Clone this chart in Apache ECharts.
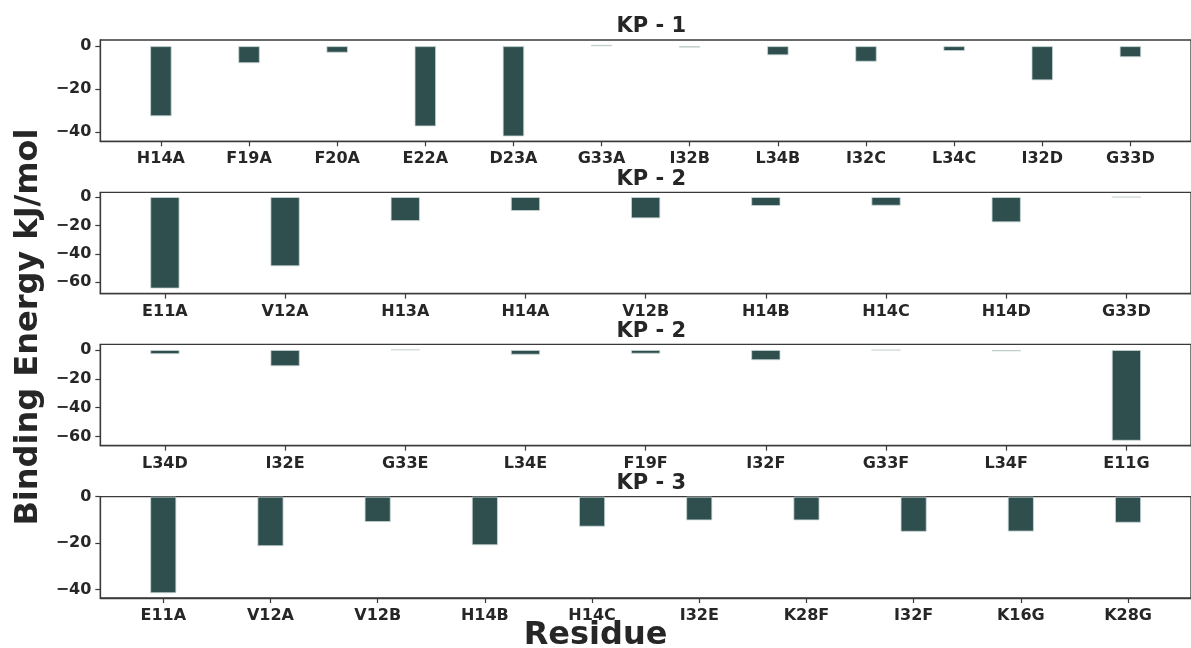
<!DOCTYPE html>
<html>
<head>
<meta charset="utf-8">
<script src="https://cdn.jsdelivr.net/npm/echarts@6/dist/echarts.min.js"></script>
<style>
html,body{margin:0;padding:0;background:#fff;}
#chart{width:1191px;height:648px;}
</style>
</head>
<body>
<div id="chart"></div>
<script>
// ---- data ----
const cats1 = ['H14A','F19A','F20A','E22A','D23A','G33A','I32B','L34B','I32C','L34C','I32D','G33D'];
const vals1 = [-32.7,-7.9,-3.0,-37.4,-42.1,0.6,-0.6,-4.2,-7.2,-2.2,-15.9,-5.1];
const cats2 = ['E11A','V12A','H13A','H14A','V12B','H14B','H14C','H14D','G33D'];
const vals2 = [-64.4,-48.7,-16.8,-9.7,-14.9,-6.2,-6.0,-17.7,0];
const cats3 = ['L34D','I32E','G33E','L34E','F19F','I32F','G33F','L34F','E11G'];
const vals3 = [-2.8,-11.2,0.4,-3.2,-2.5,-7.0,0,-0.9,-63.0];
const cats4 = ['E11A','V12A','V12B','H14B','H14C','I32E','K28F','I32F','K16G','K28G'];
const vals4 = [-41.6,-21.3,-10.9,-20.9,-12.9,-10.2,-10.2,-15.1,-15.0,-11.2];
const yTicks1 = [0,-20,-40];
const yTicks2 = [0,-20,-40,-60];
const yTicks3 = [0,-20,-40,-60];
const yTicks4 = [0,-20,-40];
const yRange1 = [-44.4, 2.9];
const yRange2 = [-68.0, 3.4];
const yRange3 = [-66.4, 4.0];
const yRange4 = [-43.7, 0];
const titles = ['KP - 1','KP - 2','KP - 2','KP - 3'];
const yLabel = 'Binding Energy kJ/mol';
const xLabel = 'Residue';

const panels = [
  {cats:cats1, vals:vals1, ticks:yTicks1, range:yRange1},
  {cats:cats2, vals:vals2, ticks:yTicks2, range:yRange2},
  {cats:cats3, vals:vals3, ticks:yTicks3, range:yRange3},
  {cats:cats4, vals:vals4, ticks:yTicks4, range:yRange4}
];

const FONT = 'DejaVu Sans';
const TXT = '#262626';
const LINE = '#3a3a3a';
const gridLeft = 100.3;
const gridWidth = 1102;
const gridTops = [40, 192.3, 344.3, 496.7];
const gridH = 101.3;
const relWidth = 0.24;

const grids = [], xAxes = [], yAxes = [], series = [], graphics = [];
panels.forEach((p, i) => {
  const n = p.cats.length;
  const m = 0.125 + 0.05 * (n - 1 + 0.25);
  const xmin = -m, xmax = n - 1 + m;
  const step = gridWidth / (xmax - xmin);
  const idx = p.cats.map((c, k) => k);
  grids.push({left: gridLeft, top: gridTops[i], width: gridWidth, height: gridH,
    show: true, borderColor: LINE, borderWidth: 1.3, backgroundColor: 'transparent'});
  xAxes.push({type: 'value', gridIndex: i, min: xmin, max: xmax, position: 'bottom',
    axisLine: {show: true, onZero: false, lineStyle: {color: LINE, width: 1.3}},
    axisTick: {show: true, length: 5, customValues: idx, lineStyle: {color: LINE, width: 1.2}},
    axisLabel: {show: true, customValues: idx, margin: 10, color: TXT,
      fontFamily: FONT, fontWeight: 'bold', fontSize: 16,
      formatter: v => p.cats[Math.round(v)] || ''},
    splitLine: {show: false}});
  yAxes.push({type: 'value', gridIndex: i, min: p.range[0], max: p.range[1], position: 'left',
    axisLine: {show: true, onZero: false, lineStyle: {color: LINE, width: 1.3}},
    axisTick: {show: true, length: 5, customValues: p.ticks, lineStyle: {color: LINE, width: 1.2}},
    axisLabel: {show: true, customValues: p.ticks, margin: 9, color: TXT,
      fontFamily: FONT, fontWeight: 'bold', fontSize: 16,
      formatter: v => String(v).replace('-', '\u2212')},
    splitLine: {show: false}});
  series.push({type: 'bar', xAxisIndex: i, yAxisIndex: i,
    barWidth: relWidth * step,
    data: p.vals.map((v, k) => [k, v]),
    itemStyle: {color: '#2F4F4F', borderColor: '#c9d5d5', borderWidth: 0.8},
    silent: true, animation: false});
  graphics.push({type: 'text', x: gridLeft + gridWidth / 2, y: gridTops[i] - 13,
    style: {text: titles[i], fill: TXT, font: 'bold 21px "DejaVu Sans"',
      textAlign: 'center', textVerticalAlign: 'middle'}});
});

graphics.push({type: 'text', x: 29, y: 327, rotation: Math.PI / 2,
  style: {text: yLabel, fill: TXT, font: 'bold 32px "DejaVu Sans"',
    textAlign: 'center', textVerticalAlign: 'middle'}});
graphics.push({type: 'text', x: 595.5, y: 636,
  style: {text: xLabel, fill: TXT, font: 'bold 32px "DejaVu Sans"',
    textAlign: 'center', textVerticalAlign: 'middle'}});

const chart = echarts.init(document.getElementById('chart'), null, {renderer: 'canvas'});
chart.setOption({
  animation: false,
  backgroundColor: '#ffffff',
  grid: grids, xAxis: xAxes, yAxis: yAxes, series: series,
  graphic: graphics
});
</script>
</body>
</html>
